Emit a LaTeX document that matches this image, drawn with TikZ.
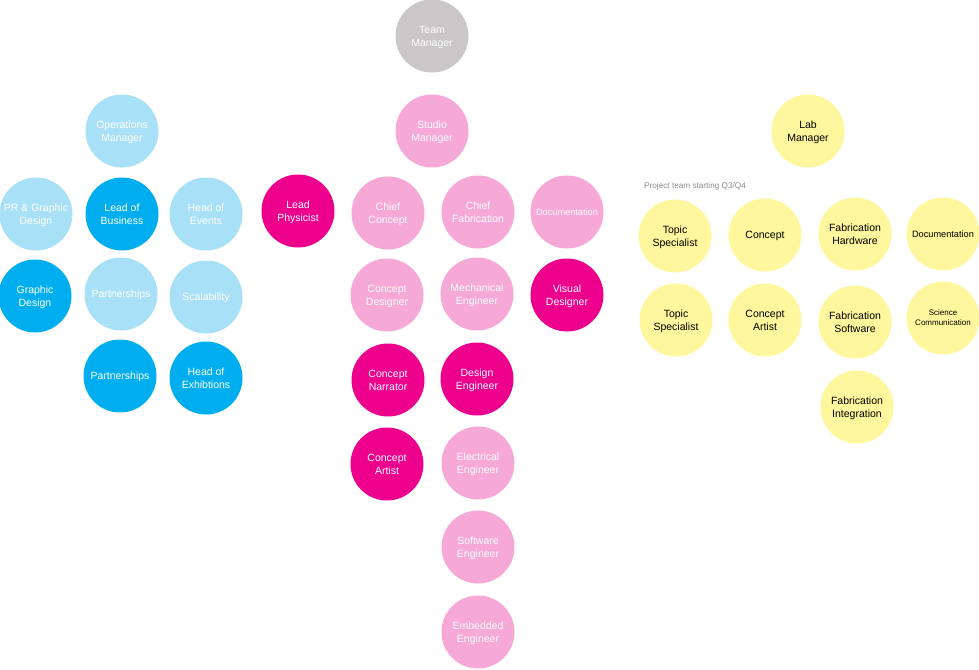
\documentclass[tikz,border=0pt]{standalone}
\usepackage{fontspec}
\setmainfont{Liberation Sans}
\definecolor{lblue}{HTML}{A8E1F7}
\definecolor{dblue}{HTML}{00AEEF}
\definecolor{lpink}{HTML}{F6A8D6}
\definecolor{mag}{HTML}{EC008C}
\definecolor{tgray}{HTML}{C9C7C7}
\definecolor{yel}{HTML}{FFF79D}
\definecolor{notegray}{HTML}{8A8A8A}
\begin{document}
\begin{tikzpicture}[x=1pt,y=-1pt,
  bub/.style={circle,minimum size=73pt,inner sep=0pt,align=center,text=white,
    text depth=-0.8pt,font=\fontsize{10.5}{13}\selectfont},
  lb/.style={bub,fill=lblue},
  db/.style={bub,fill=dblue},
  lp/.style={bub,fill=lpink},
  mp/.style={bub,fill=mag},
  gr/.style={bub,fill=tgray},
  ye/.style={bub,fill=yel,text=black},
  small/.style={font=\fontsize{9.2}{11}\selectfont},
  tiny/.style={font=\fontsize{8}{10}\selectfont}]
\useasboundingbox (0,0) rectangle (979,669);
% grey
\node[gr] (team) at (432,36) {Team\\Manager};
% blue
\node[lb] (ops) at (122,131) {Operations\\Manager};
\node[lb] (pr) at (36,214) {PR \& Graphic\\Design};
\node[db] (lob) at (122,214) {Lead of\\Business};
\node[lb] (hoe) at (206,214) {Head of\\Events};
\node[db] (gd) at (35,296) {Graphic\\Design};
\node[lb] (part1) at (121,294) {Partnerships};
\node[lb] (scal) at (206,297) {Scalability};
\node[db] (part2) at (120,376) {Partnerships};
\node[db] (hex) at (206,378) {Head of\\Exhibtions};
% pink
\node[lp] (studio) at (432,131) {Studio\\Manager};
\node[mp] (phys) at (298,211) {Lead\\Physicist};
\node[lp] (cc) at (388,213) {Chief\\Concept};
\node[lp] (cf) at (478,212) {Chief\\Fabrication};
\node[lp,small] (doc1) at (567,212) {Documentation};
\node[lp] (cd) at (387,295) {Concept\\Designer};
\node[lp] (me) at (477,294) {Mechanical\\Engineer};
\node[mp] (vd) at (567,295) {Visual\\Designer};
\node[mp] (cn) at (388,380) {Concept\\Narrator};
\node[mp] (de) at (477,379) {Design\\Engineer};
\node[mp] (ca1) at (387,464) {Concept\\Artist};
\node[lp] (ee) at (478,463) {Electrical\\Engineer};
\node[lp] (se) at (478,547) {Software\\Engineer};
\node[lp] (emb) at (478,632) {Embedded\\Engineer};
% yellow
\node[ye] (lab) at (808,131) {Lab\\Manager};
\node[anchor=west,inner sep=0pt,text=notegray,font=\fontsize{8.2}{10}\selectfont] (note) at (644,186) {Project team starting Q3/Q4};
\node[ye] (ts1) at (675,236) {Topic\\Specialist};
\node[ye] (con) at (765,235) {Concept};
\node[ye] (fh) at (855,234) {Fabrication\\Hardware};
\node[ye,small] (doc2) at (943,234) {Documentation};
\node[ye] (ts2) at (676,320) {Topic\\Specialist};
\node[ye] (ca2) at (765,320) {Concept\\Artist};
\node[ye] (fs) at (855,322) {Fabrication\\Software};
\node[ye,tiny] (sc) at (943,318) {Science\\Communication};
\node[ye] (fi) at (857,407) {Fabrication\\Integration};
\end{tikzpicture}
\end{document}
